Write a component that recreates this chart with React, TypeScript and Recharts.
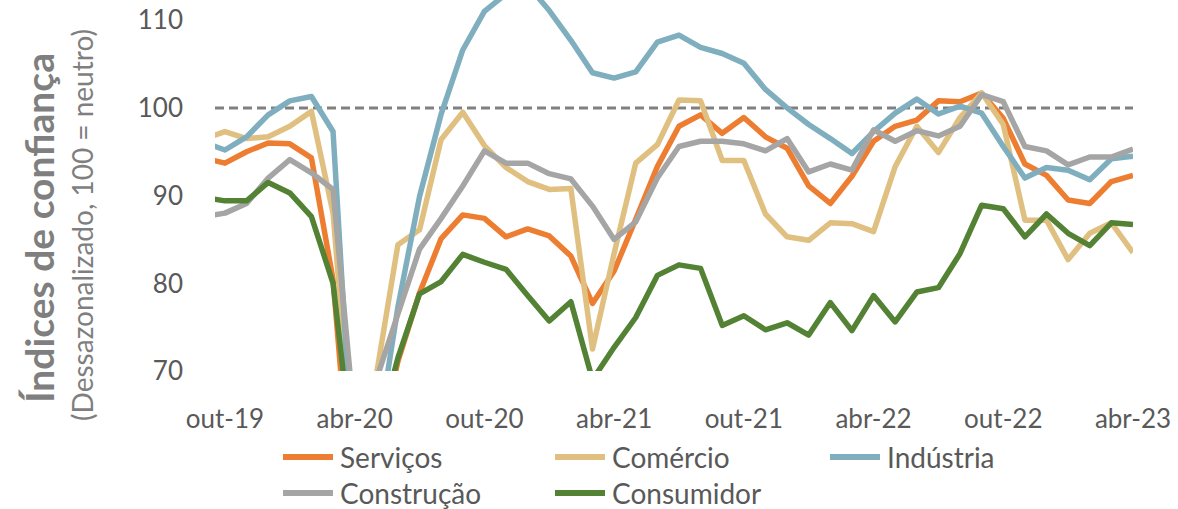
import { LineChart, Line, XAxis, YAxis, ReferenceLine } from "recharts";

// set-19 .. abr-23 (first point sits just left of the plot and gets clipped)
const months = [
  "set-19", "out-19", "nov-19", "dez-19",
  "jan-20", "fev-20", "mar-20", "abr-20", "mai-20", "jun-20", "jul-20", "ago-20", "set-20", "out-20", "nov-20", "dez-20",
  "jan-21", "fev-21", "mar-21", "abr-21", "mai-21", "jun-21", "jul-21", "ago-21", "set-21", "out-21", "nov-21", "dez-21",
  "jan-22", "fev-22", "mar-22", "abr-22", "mai-22", "jun-22", "jul-22", "ago-22", "set-22", "out-22", "nov-22", "dez-22",
  "jan-23", "fev-23", "mar-23", "abr-23",
];

const servicos = [
  94.3, 93.7, 95.0, 96.0, 95.9, 94.3, 80.4, 51.0, 60.0, 71.1, 78.9, 85.1, 87.8, 87.4, 85.3, 86.2,
  85.4, 83.1, 77.7, 81.4, 87.3, 93.3, 97.9, 99.2, 97.1, 98.9, 96.7, 95.4,
  91.1, 89.1, 92.2, 96.2, 97.9, 98.6, 100.8, 100.7, 101.7, 98.8, 93.6, 92.3,
  89.5, 89.1, 91.6, 92.3,
];
const comercio = [
  96.4, 97.3, 96.5, 96.7, 97.9, 99.6, 88.0, 58.0, 69.5, 84.4, 86.1, 96.4, 99.5, 95.7, 93.2, 91.6,
  90.7, 90.8, 72.5, 83.4, 93.7, 95.8, 100.9, 100.8, 94.0, 94.0, 87.9, 85.3,
  84.9, 86.9, 86.8, 85.9, 93.3, 97.9, 94.9, 98.9, 101.7, 98.1, 87.2, 87.2,
  82.7, 85.7, 86.9, 83.5,
];
const industria = [
  96.1, 95.2, 96.7, 99.2, 100.8, 101.3, 97.3, 56.0, 61.5, 77.3, 89.9, 99.3, 106.6, 111.0, 113.0, 114.0,
  111.1, 107.7, 104.0, 103.4, 104.1, 107.5, 108.3, 106.9, 106.2, 105.1, 102.1, 100.0,
  98.1, 96.5, 94.8, 97.3, 99.4, 101.0, 99.3, 100.2, 99.4, 95.6, 92.0, 93.2,
  92.9, 91.8, 94.2, 94.5,
];
const construcao = [
  87.6, 88.0, 89.1, 92.0, 94.1, 92.6, 90.7, 64.0, 69.0, 76.5, 83.9, 87.4, 91.1, 95.1, 93.7, 93.7,
  92.5, 91.9, 88.8, 85.0, 87.0, 92.0, 95.6, 96.2, 96.2, 95.9, 95.1, 96.5,
  92.7, 93.6, 92.9, 97.5, 96.2, 97.4, 96.8, 97.9, 101.5, 100.7, 95.6, 95.1,
  93.5, 94.4, 94.4, 95.3,
];
const consumidor = [
  89.8, 89.4, 89.4, 91.5, 90.3, 87.6, 80.0, 58.5, 62.1, 71.5, 78.8, 80.2, 83.3, 82.4, 81.6, 78.6,
  75.7, 77.9, 69.0, 72.7, 76.1, 80.9, 82.1, 81.7, 75.2, 76.3, 74.7, 75.5,
  74.1, 77.8, 74.6, 78.6, 75.6, 79.0, 79.5, 83.4, 88.9, 88.5, 85.3, 87.9,
  85.7, 84.3, 86.9, 86.7,
];

const tickLabels = ["out-19", "abr-20", "out-20", "abr-21", "out-21", "abr-22", "out-22", "abr-23"];
const yTicks = [70, 80, 90, 100, 110];

const series = [
  { key: "servicos", name: "Serviços", color: "#ED7D31", values: servicos },
  { key: "comercio", name: "Comércio", color: "#E0C080", values: comercio },
  { key: "industria", name: "Indústria", color: "#7FAFBE", values: industria },
  { key: "construcao", name: "Construção", color: "#A5A5A5", values: construcao },
  { key: "consumidor", name: "Consumidor", color: "#548235", values: consumidor },
];

// x = month index, out-19 = 0
const data = months.map((m, idx) => {
  const row: { [k: string]: any } = { i: idx - 1, month: m };
  series.forEach((s) => (row[s.key] = s.values[idx]));
  return row;
});
const tickIdx = tickLabels.map((t) => months.indexOf(t) - 1);

const FONT = "Lato, 'Open Sans', sans-serif";
const TXT = "#595959";

export default function App() {
  return (
    <div style={{ position: "absolute", left: 0, top: 0, width: 1178, height: 509, background: "#fff", fontFamily: FONT }}>
      <LineChart width={1178} height={509} data={data} margin={{ top: 0, right: 45, bottom: 78, left: 155 }}>
        <XAxis
          dataKey="i"
          type="number"
          domain={[-0.46, 42]}
          allowDataOverflow
          ticks={tickIdx}
          tickFormatter={(v: number) => tickLabels[tickIdx.indexOf(v)] ?? ""}
          axisLine={false}
          tickLine={false}
          tickSize={37}
          height={60}
          interval={0}
          tick={{ fill: TXT, fontSize: 26, fontFamily: FONT }}
        />
        <YAxis
          type="number"
          domain={[70, 112.3]}
          allowDataOverflow
          ticks={yTicks}
          axisLine={false}
          tickLine={false}
          tickSize={30}
          width={60}
          tick={{ fill: TXT, fontSize: 26, fontFamily: FONT }}
        />
        <ReferenceLine y={100} stroke="#808080" strokeWidth={3} strokeDasharray="9 5" />
        {series.map((s) => (
          <Line
            key={s.key}
            dataKey={s.key}
            name={s.name}
            stroke={s.color}
            strokeWidth={5.5}
            strokeLinejoin="round"
            dot={false}
            activeDot={false}
            isAnimationActive={false}
          />
        ))}
      </LineChart>

      <svg width={120} height={509} style={{ position: "absolute", left: 0, top: 0 }}>
        <text
          transform="translate(54,228) rotate(-90)"
          textAnchor="middle"
          fontSize={39}
          fontWeight={700}
          fill="#7F7F7F"
          fontFamily={FONT}
        >
          Índices de confiança
        </text>
        <text
          transform="translate(93,225) rotate(-90)"
          textAnchor="middle"
          fontSize={28}
          fill="#7F7F7F"
          fontFamily={FONT}
        >
          (Dessazonalizado, 100 = neutro)
        </text>
      </svg>

      <div
        style={{
          position: "absolute",
          left: 283,
          top: 439,
          display: "grid",
          gridTemplateColumns: "272px 275px auto",
          gridAutoRows: "36px",
          fontSize: 28,
          color: TXT,
        }}
      >
        {series.map((s) => (
          <div key={s.key} style={{ display: "flex", alignItems: "center", lineHeight: "36px" }}>
            <span style={{ display: "inline-block", width: 50, height: 6, background: s.color, marginRight: 7 }} />
            <span>{s.name}</span>
          </div>
        ))}
      </div>
    </div>
  );
}
